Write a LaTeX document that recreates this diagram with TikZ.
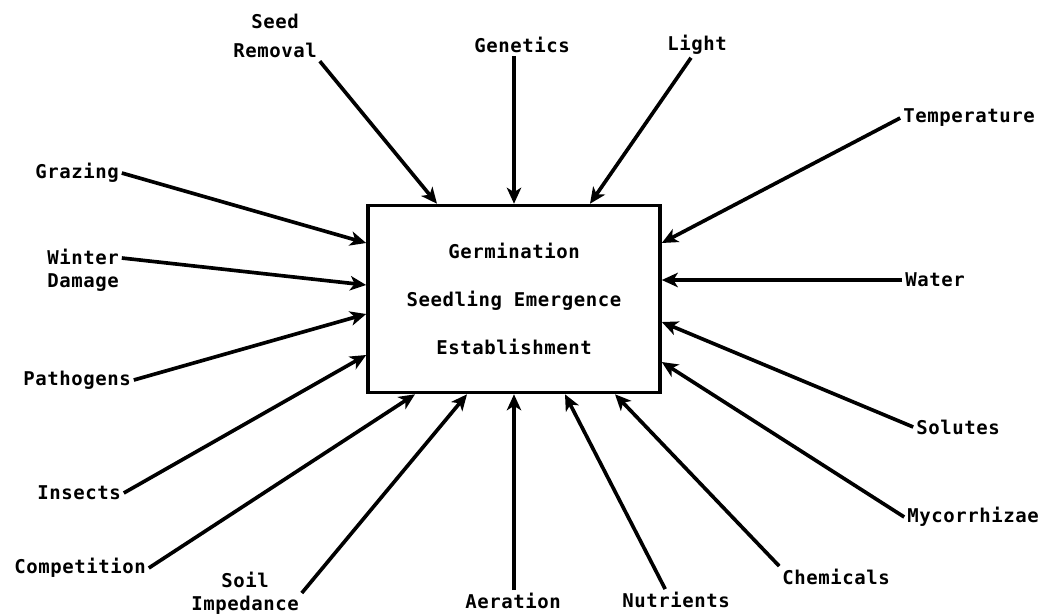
\documentclass[tikz,border=0pt]{standalone}
\usepackage{fontspec}
\newfontfamily\typewriter[LetterSpace=3.0]{DejaVu Sans Mono}
\usetikzlibrary{arrows.meta}

\begin{document}
\begin{tikzpicture}[x=0.025cm, y=-0.025cm,
  font=\typewriter\bfseries\fontsize{13.5}{16}\selectfont,
  % Central stage = plain box with three spaced lines
  stage/.style={rectangle, draw=black, line width=2.5pt, minimum width=7.3cm, minimum height=4.675cm, align=center,
    font=\typewriter\bfseries\fontsize{13.5}{34}\selectfont},
  % Factor = bare label around the box
  factor/.style={inner sep=2pt, align=center},
  arrow/.style={line width=2.6pt, -{Stealth[length=0.4cm, width=0.36cm, inset=0.11cm]}}
]
\useasboundingbox (0,0) rectangle (1052,614);

% ---- Central box ----
\node[stage] (box) at (514,299) {Germination\\Seedling Emergence\\Establishment};

% ---- Factors (top) ----
\node[factor] (seed) at (275,36) {Seed\\[5pt]Removal};
\node[factor] (genetics) at (522,45) {Genetics};
\node[factor] (light) at (697,45) {Light};

% ---- Factors (right) ----
\node[factor] (temperature) at (969,118) {Temperature};
\node[factor] (water) at (935,280) {Water};
\node[factor] (solutes) at (958,427) {Solutes};
\node[factor] (mycorrhizae) at (973,517) {Mycorrhizae};

% ---- Factors (bottom) ----
\node[factor] (chemicals) at (836,577) {Chemicals};
\node[factor] (nutrients) at (676,600) {Nutrients};
\node[factor] (aeration) at (513,601) {Aeration};
\node[factor] (soil) at (245,593) {Soil\\Impedance};

% ---- Factors (left) ----
\node[factor] (competition) at (80,568) {Competition};
\node[factor] (insects) at (79,493) {Insects};
\node[factor] (pathogens) at (77,380) {Pathogens};
\node[factor, align=left] (winter) at (83,270) {Winter\\Damage};
\node[factor] (grazing) at (77,173) {Grazing};

% ---- Flows into the box ----
\draw[arrow] (seed.south east) -- (box.north -| 437,0);
\draw[arrow] (genetics.south -| box.north) -- (box.north);
\draw[arrow] ([xshift=-0.15cm]light.south) -- (box.north -| 590,0);
\draw[arrow] (temperature.west) -- (box.east |- 0,243);
\draw[arrow] (water.west) -- (box.east |- 0,280);
\draw[arrow] (solutes.west) -- (box.east |- 0,322);
\draw[arrow] (mycorrhizae.west) -- (box.east |- 0,362);
\draw[arrow] (chemicals.north west) -- (box.south -| 615,0);
\draw[arrow] ([xshift=-0.27cm]nutrients.north) -- (box.south -| 565,0);
\draw[arrow] (aeration.north -| box.south) -- (box.south);
\draw[arrow] (soil.east) -- (box.south -| 467,0);
\draw[arrow] (competition.east) -- (box.south -| 415,0);
\draw[arrow] (insects.east) -- (box.west |- 0,355);
\draw[arrow] (pathogens.east) -- (box.west |- 0,314);
\draw[arrow] ([yshift=0.3cm]winter.east) -- (box.west |- 0,285);
\draw[arrow] (grazing.east) -- (box.west |- 0,243);

\end{tikzpicture}
\end{document}
